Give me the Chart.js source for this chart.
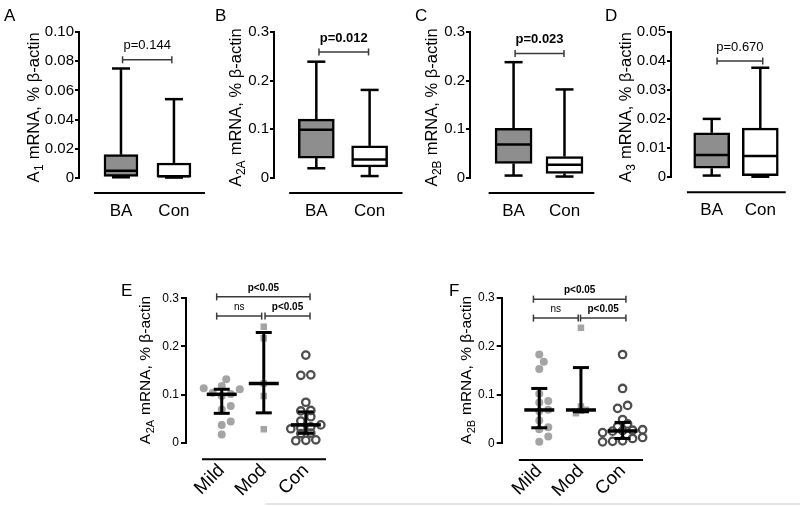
<!DOCTYPE html>
<html><head><meta charset="utf-8">
<script src="https://cdn.jsdelivr.net/npm/chart.js@4.4.0/dist/chart.umd.min.js"></script>
<style>
html,body{margin:0;padding:0;background:#fff}
body{width:800px;height:506px;overflow:hidden;position:relative}
canvas{position:absolute}
#edge{position:absolute;left:266px;top:503px;width:534px;height:2px;background:#e4e4e4}
</style></head><body>
<div id="edge"></div>
<script>
const FONT = '"Liberation Sans", Arial, Helvetica, sans-serif';

// ---------- data ----------
const BOX_CATS = ['BA', 'Con'];
// five-number summaries [min, q1, median, q3, max]
const A_TICKS = ['0', '0.02', '0.04', '0.06', '0.08', '0.10'];
const A_BA  = [0.0005, 0.0010, 0.0050, 0.0160, 0.0750];
const A_CON = [0.0003, 0.0006, 0.0012, 0.0103, 0.0540];
const A_P   = [1.03, 1.96, 0.081, 'p=0.144'];

const B_TICKS = ['0', '0.1', '0.2', '0.3'];
const B_BA  = [0.020, 0.041, 0.099, 0.121, 0.239];
const B_CON = [0.004, 0.023, 0.038, 0.066, 0.181];
const B_P   = [1.05, 1.98, 0.259, 'p=0.012'];

const C_TICKS = ['0', '0.1', '0.2', '0.3'];
const C_BA  = [0.005, 0.030, 0.069, 0.102, 0.238];
const C_CON = [0.003, 0.0096, 0.027, 0.044, 0.182];
const C_P   = [1.03, 1.99, 0.256, 'p=0.023'];

const D_TICKS = ['0', '0.01', '0.02', '0.03', '0.04', '0.05'];
const D_BA  = [0.0006, 0.0031, 0.0077, 0.0153, 0.0201];
const D_CON = [0.0002, 0.0006, 0.0073, 0.0169, 0.0377];
const D_P   = [1.11, 2.05, 0.040, 'p=0.670'];

const DOT_CATS = ['Mild', 'Mod', 'Con'];
const E_TICKS = ['0', '0.1', '0.2', '0.3'];
const E_MILD = [0.132, 0.118, 0.113, 0.111, 0.104, 0.101, 0.097, 0.076, 0.069, 0.044, 0.037, 0.017];
const E_MOD  = [0.241, 0.217, 0.123, 0.097, 0.028];
const E_CON  = [0.182, 0.141, 0.140, 0.084, 0.067, 0.066, 0.054, 0.045, 0.037, 0.033, 0.030, 0.029, 0.020, 0.019, 0.006, 0.005, 0.004];
const E_Q1  = [0.061, 0.062, 0.0195];
const E_MED = [0.1005, 0.123, 0.037];
const E_Q3  = [0.111, 0.229, 0.064];
const E_BRACKETS = [[0.88, 3.10, 0.303, 'p<0.05'], [0.88, 1.95, 0.263, 'ns'], [2.03, 3.10, 0.263, 'p<0.05']];

const F_TICKS = ['0', '0.1', '0.2', '0.3'];
const F_MILD = [0.183, 0.168, 0.153, 0.102, 0.087, 0.084, 0.069, 0.066, 0.047, 0.033, 0.029, 0.014, 0.003];
const F_MOD  = [0.238, 0.076, 0.069, 0.067, 0.062];
const F_CON  = [0.183, 0.113, 0.078, 0.072, 0.049, 0.040, 0.034, 0.028, 0.027, 0.026, 0.025, 0.022, 0.012, 0.010, 0.005, 0.004, 0.003];
const F_Q1  = [0.032, 0.065, 0.010];
const F_MED = [0.0687, 0.0687, 0.0254];
const F_Q3  = [0.113, 0.156, 0.043];
const F_BRACKETS = [[0.86, 3.08, 0.297, 'p<0.05'], [0.86, 1.935, 0.258, 'ns'], [1.99, 3.08, 0.258, 'p<0.05']];

// ---------- helpers ----------
function mkCanvas(rect) {
  const cv = document.createElement('canvas');
  cv.width = rect[2]; cv.height = rect[3];
  cv.style.left = rect[0] + 'px'; cv.style.top = rect[1] + 'px';
  cv.style.width = rect[2] + 'px'; cv.style.height = rect[3] + 'px';
  document.body.appendChild(cv);
  return cv;
}
const Y_W = 40;
function padFor(rect, area, xh) {
  return {left: area[0] - rect[0] - Y_W, top: area[1] - rect[1],
          right: rect[0] + rect[2] - area[2], bottom: rect[1] + rect[3] - area[3] - xh};
}
function yScale(ticks, font, tl, pad) {
  return {
    type: 'linear', position: 'left', bounds: 'data', offset: false,
    min: parseFloat(ticks[0]), max: parseFloat(ticks[ticks.length - 1]),
    afterBuildTicks: ax => { ax.ticks = ticks.map(t => ({value: parseFloat(t)})); },
    afterFit: ax => { ax.width = Y_W; },
    ticks: {callback: (v, i) => ticks[i], font: {family: FONT, size: font}, color: '#000', padding: pad, autoSkip: false, maxRotation: 0},
    grid: {display: true, offset: false, drawOnChartArea: false, drawTicks: true, tickLength: tl, color: '#000', lineWidth: 2},
    border: {display: true, color: '#000', width: 2}
  };
}
function xScale(cats, range, font, rot, pad, xh) {
  return {
    type: 'linear', position: 'bottom', bounds: 'data', offset: false, min: range[0], max: range[1],
    afterBuildTicks: ax => { ax.ticks = cats.map((c, i) => ({value: i + 1})); },
    afterFit: ax => { ax.height = xh; },
    ticks: {callback: (v, i) => cats[i], font: {family: FONT, size: font}, color: '#000', padding: pad, autoSkip: false, minRotation: rot, maxRotation: rot},
    grid: {display: false, offset: false, drawTicks: false},
    border: {display: false}
  };
}
function line(ctx, x1, y1, x2, y2) { ctx.beginPath(); ctx.moveTo(x1, y1); ctx.lineTo(x2, y2); ctx.stroke(); }
function drawYTitle(ctx, cx, cy, parts, size) {
  ctx.save();
  ctx.translate(cx, cy); ctx.rotate(-Math.PI / 2);
  ctx.fillStyle = '#000'; ctx.textBaseline = 'middle'; ctx.textAlign = 'left';
  const f1 = size + 'px ' + FONT, f2 = Math.round(size * 0.72) + 'px ' + FONT;
  ctx.font = f1; const w1 = ctx.measureText(parts[0]).width, w3 = ctx.measureText(parts[2]).width;
  ctx.font = f2; const w2 = ctx.measureText(parts[1]).width;
  let x = -(w1 + w2 + w3) / 2;
  ctx.font = f1; ctx.fillText(parts[0], x, 0); x += w1;
  ctx.font = f2; ctx.fillText(parts[1], x + 0.5, size * 0.32); x += w2 + 1;
  ctx.font = f1; ctx.fillText(parts[2], x, 0);
  ctx.restore();
}
function drawBracket(chart, b, fontSize, bold, lift) {
  const ctx = chart.ctx, xs = chart.scales.x, ys = chart.scales.y;
  const x1 = xs.getPixelForValue(b[0]), x2 = xs.getPixelForValue(b[1]), y = ys.getPixelForValue(b[2]);
  ctx.save();
  ctx.strokeStyle = '#3a3a3a'; ctx.lineWidth = 1.5;
  line(ctx, x1, y, x2, y); line(ctx, x1, y - 3.5, x1, y + 3.5); line(ctx, x2, y - 3.5, x2, y + 3.5);
  ctx.fillStyle = '#000'; ctx.textAlign = 'center'; ctx.textBaseline = 'middle';
  ctx.font = (bold ? 'bold ' : '') + fontSize + 'px ' + FONT;
  ctx.fillText(b[3], (x1 + x2) / 2, y - lift);
  ctx.restore();
}
function drawLetter(chart, letter, pos, rect) {
  const ctx = chart.ctx;
  ctx.save(); ctx.fillStyle = '#000'; ctx.font = '17px ' + FONT; ctx.textBaseline = 'alphabetic'; ctx.textAlign = 'left';
  ctx.fillText(letter, pos[0] - rect[0], pos[1] - rect[1]);
  ctx.restore();
}

// ---------- box plot panels ----------
function boxPanel(p) {
  const cv = mkCanvas(p.rect);
  const groups = p.groups;
  const deco = {
    id: 'deco',
    beforeDatasetsDraw(chart) {
      const ctx = chart.ctx, xs = chart.scales.x, ys = chart.scales.y;
      ctx.save(); ctx.strokeStyle = '#000'; ctx.lineWidth = 2.5; ctx.lineCap = 'butt';
      groups.forEach((g, i) => {
        const cx = xs.getPixelForValue(i + 1);
        line(ctx, cx, ys.getPixelForValue(g[3]), cx, ys.getPixelForValue(g[4]));
        line(ctx, cx, ys.getPixelForValue(g[1]), cx, ys.getPixelForValue(g[0]));
        line(ctx, cx - 9, ys.getPixelForValue(g[4]), cx + 9, ys.getPixelForValue(g[4]));
        line(ctx, cx - 9, ys.getPixelForValue(g[0]), cx + 9, ys.getPixelForValue(g[0]));
      });
      ctx.restore();
    },
    afterDatasetsDraw(chart) {
      const ctx = chart.ctx, xs = chart.scales.x, ys = chart.scales.y;
      ctx.save(); ctx.strokeStyle = '#000'; ctx.lineWidth = 2.5;
      groups.forEach((g, i) => {
        const cx = xs.getPixelForValue(i + 1), y = ys.getPixelForValue(g[2]);
        line(ctx, cx - p.bar / 2 + 1, y, cx + p.bar / 2 - 1, y);
      });
      ctx.restore();
    },
    afterDraw(chart) {
      const ctx = chart.ctx, xs = chart.scales.x, a = chart.chartArea;
      ctx.save(); ctx.strokeStyle = '#000'; ctx.lineWidth = 2;
      line(ctx, xs.getPixelForValue(p.lineStart), a.bottom + 15, a.right, a.bottom + 15);
      ctx.restore();
      drawBracket(chart, p.bracket, 13, p.bold, 14);
      drawYTitle(ctx, p.titleX - p.rect[0], (a.top + a.bottom) / 2 + p.titleDy, p.title, 16.5);
      drawLetter(chart, p.letter, p.letterPos, p.rect);
    }
  };
  new Chart(cv, {
    type: 'scatter',
    data: {datasets: [{
      type: 'bar',
      data: groups.map((g, i) => ({x: i + 1, y: [g[1], g[3]]})),
      backgroundColor: ['#8e8e8e', '#ffffff'], borderColor: '#000', borderWidth: 2.5,
      borderSkipped: false, barThickness: p.bar, clip: false
    }]},
    options: {
      responsive: false, animation: false, devicePixelRatio: 1,
      layout: {padding: padFor(p.rect, p.area, 40), autoPadding: false},
      plugins: {legend: {display: false}, tooltip: {enabled: false}, title: {display: false}},
      scales: {x: xScale(BOX_CATS, p.xRange, 17, 0, 23, 40), y: yScale(p.ticks, 15, 4, 1)}
    },
    plugins: [deco]
  });
}

boxPanel({rect: [0, 0, 215, 230], area: [79, 32, 205, 178], xRange: [0.2075, 2.585], lineStart: 0.49, bar: 34,
  groups: [A_BA, A_CON], ticks: A_TICKS, bracket: A_P, bold: false, letter: 'A', letterPos: [4, 21],
  title: ['A', '1', ' mRNA, % β-actin'], titleX: 34, titleDy: 3});
boxPanel({rect: [195, 0, 215, 230], area: [274, 32, 403, 178], xRange: [0.206, 2.617], lineStart: 0.49, bar: 36,
  groups: [B_BA, B_CON], ticks: B_TICKS, bracket: B_P, bold: true, letter: 'B', letterPos: [215, 21],
  title: ['A', '2A', ' mRNA, % β-actin'], titleX: 236, titleDy: 3});
boxPanel({rect: [390, 0, 215, 230], area: [470, 32, 597, 178], xRange: [0.144, 2.586], lineStart: 0.51, bar: 37,
  groups: [C_BA, C_CON], ticks: C_TICKS, bracket: C_P, bold: true, letter: 'C', letterPos: [415, 21],
  title: ['A', '2B', ' mRNA, % β-actin'], titleX: 432, titleDy: 3});
boxPanel({rect: [585, 0, 215, 230], area: [671, 32, 795, 177.3], xRange: [0.162, 2.524], lineStart: 0.49, bar: 36,
  groups: [D_BA, D_CON], ticks: D_TICKS, bracket: D_P, bold: false, letter: 'D', letterPos: [605, 21],
  title: ['A', '3', ' mRNA, % β-actin'], titleX: 626, titleDy: 3});

// ---------- dot plot panels ----------
// row-binned layout: points of nearly equal pixel height share a row, centred
function rows(py, s, binH) {
  const idx = py.map((_, i) => i).sort((a, b) => py[b] - py[a]);
  const off = []; let bin = [];
  const flush = () => { const n = bin.length; bin.forEach((i, k) => { off[i] = (k - (n - 1) / 2) * s; }); bin = []; };
  for (const i of idx) {
    if (bin.length && Math.abs(py[i] - py[bin[0]]) > binH) flush();
    bin.push(i);
  }
  flush();
  return off;
}
// collision layout: each point moved sideways until it no longer overlaps an earlier one
function swarm(py, d, step) {
  const idx = py.map((_, i) => i).sort((a, b) => py[b] - py[a]);
  const placed = [], off = [];
  for (const i of idx) {
    for (let k = 0; k < 80; k++) {
      const c = k === 0 ? 0 : (k % 2 ? 1 : -1) * Math.ceil(k / 2) * step;
      if (placed.every(q => (q[0] - c) ** 2 + (q[1] - py[i]) ** 2 >= d * d)) { off[i] = c; placed.push([c, py[i]]); break; }
    }
  }
  return off;
}
function dotPanel(p) {
  const cv = mkCanvas(p.rect);
  const deco = {
    id: 'deco',
    afterDatasetsDraw(chart) {
      const ctx = chart.ctx, xs = chart.scales.x, ys = chart.scales.y;
      ctx.save(); ctx.strokeStyle = '#000'; ctx.lineWidth = 3;
      p.q1.forEach((q, i) => {
        const cx = xs.getPixelForValue(i + 1);
        const y1 = ys.getPixelForValue(p.q1[i]), y3 = ys.getPixelForValue(p.q3[i]), ym = ys.getPixelForValue(p.med[i]);
        line(ctx, cx, y1, cx, y3);
        line(ctx, cx - 8, y1, cx + 8, y1); line(ctx, cx - 8, y3, cx + 8, y3);
        ctx.lineWidth = 3.5; line(ctx, cx - 15, ym, cx + 15, ym); ctx.lineWidth = 3;
      });
      ctx.restore();
    },
    afterDraw(chart) {
      const ctx = chart.ctx, xs = chart.scales.x, a = chart.chartArea;
      ctx.save(); ctx.strokeStyle = '#000'; ctx.lineWidth = 2;
      line(ctx, xs.getPixelForValue(p.lineStart), a.bottom + 16.6, a.right, a.bottom + 16.6);
      ctx.restore();
      p.brackets.forEach(b => drawBracket(chart, b, 10, b[3] !== 'ns', 9));
      drawYTitle(ctx, p.titleX - p.rect[0], (a.top + a.bottom) / 2, p.title, 15.5);
      drawLetter(chart, p.letter, p.letterPos, p.rect);
    }
  };
  const sets = p.groups.map((vals, i) => ({data: vals.map(v => ({x: i + 1, y: v})), clip: false}));
  sets[0].pointStyle = 'circle'; sets[0].pointRadius = 4; sets[0].backgroundColor = '#a4a4a4'; sets[0].borderWidth = 0;
  sets[1].pointStyle = 'rect'; sets[1].pointRadius = 4.6; sets[1].backgroundColor = '#a4a4a4'; sets[1].borderWidth = 0;
  sets[2].pointStyle = 'circle'; sets[2].pointRadius = 3.7; sets[2].backgroundColor = 'rgba(0,0,0,0)';
  sets[2].borderColor = '#4e4e4e'; sets[2].borderWidth = 2.3;
  const XH = 61;
  const ch = new Chart(cv, {
    type: 'scatter',
    data: {datasets: sets},
    options: {
      responsive: false, animation: false, devicePixelRatio: 1,
      layout: {padding: padFor(p.rect, p.area, XH), autoPadding: false},
      plugins: {legend: {display: false}, tooltip: {enabled: false}, title: {display: false}},
      elements: {point: {hoverRadius: 4}},
      scales: {x: xScale(DOT_CATS, p.xRange, 18.5, 45, 17, XH), y: yScale(p.ticks, 12, 5, 2)}
    },
    plugins: [deco]
  });
  const xs = ch.scales.x, ys = ch.scales.y;
  p.groups.forEach((vals, gi) => {
    const cx = xs.getPixelForValue(gi + 1);
    const py = vals.map(v => ys.getPixelForValue(v));
    const off = gi === 0 ? swarm(py, 7.8, 4.5) : rows(py, gi === 2 ? 10 : 5, 4.5);
    ch.data.datasets[gi].data = vals.map((v, k) => ({x: xs.getValueForPixel(cx + off[k]), y: v}));
  });
  ch.update('none');
}

dotPanel({rect: [100, 265, 300, 241], area: [186, 298.3, 326, 442.7], xRange: [0.15, 3.48], lineStart: 0.53,
  groups: [E_MILD, E_MOD, E_CON], q1: E_Q1, med: E_MED, q3: E_Q3, ticks: E_TICKS, brackets: E_BRACKETS,
  letter: 'E', letterPos: [121, 296], title: ['A', '2A', ' mRNA, % β-actin'], titleX: 146});
dotPanel({rect: [430, 265, 270, 241], area: [501.7, 297.7, 643, 443.3], xRange: [0.098, 3.49], lineStart: 0.51,
  groups: [F_MILD, F_MOD, F_CON], q1: F_Q1, med: F_MED, q3: F_Q3, ticks: F_TICKS, brackets: F_BRACKETS,
  letter: 'F', letterPos: [449, 296], title: ['A', '2B', ' mRNA, % β-actin'], titleX: 467});
</script>
</body></html>
